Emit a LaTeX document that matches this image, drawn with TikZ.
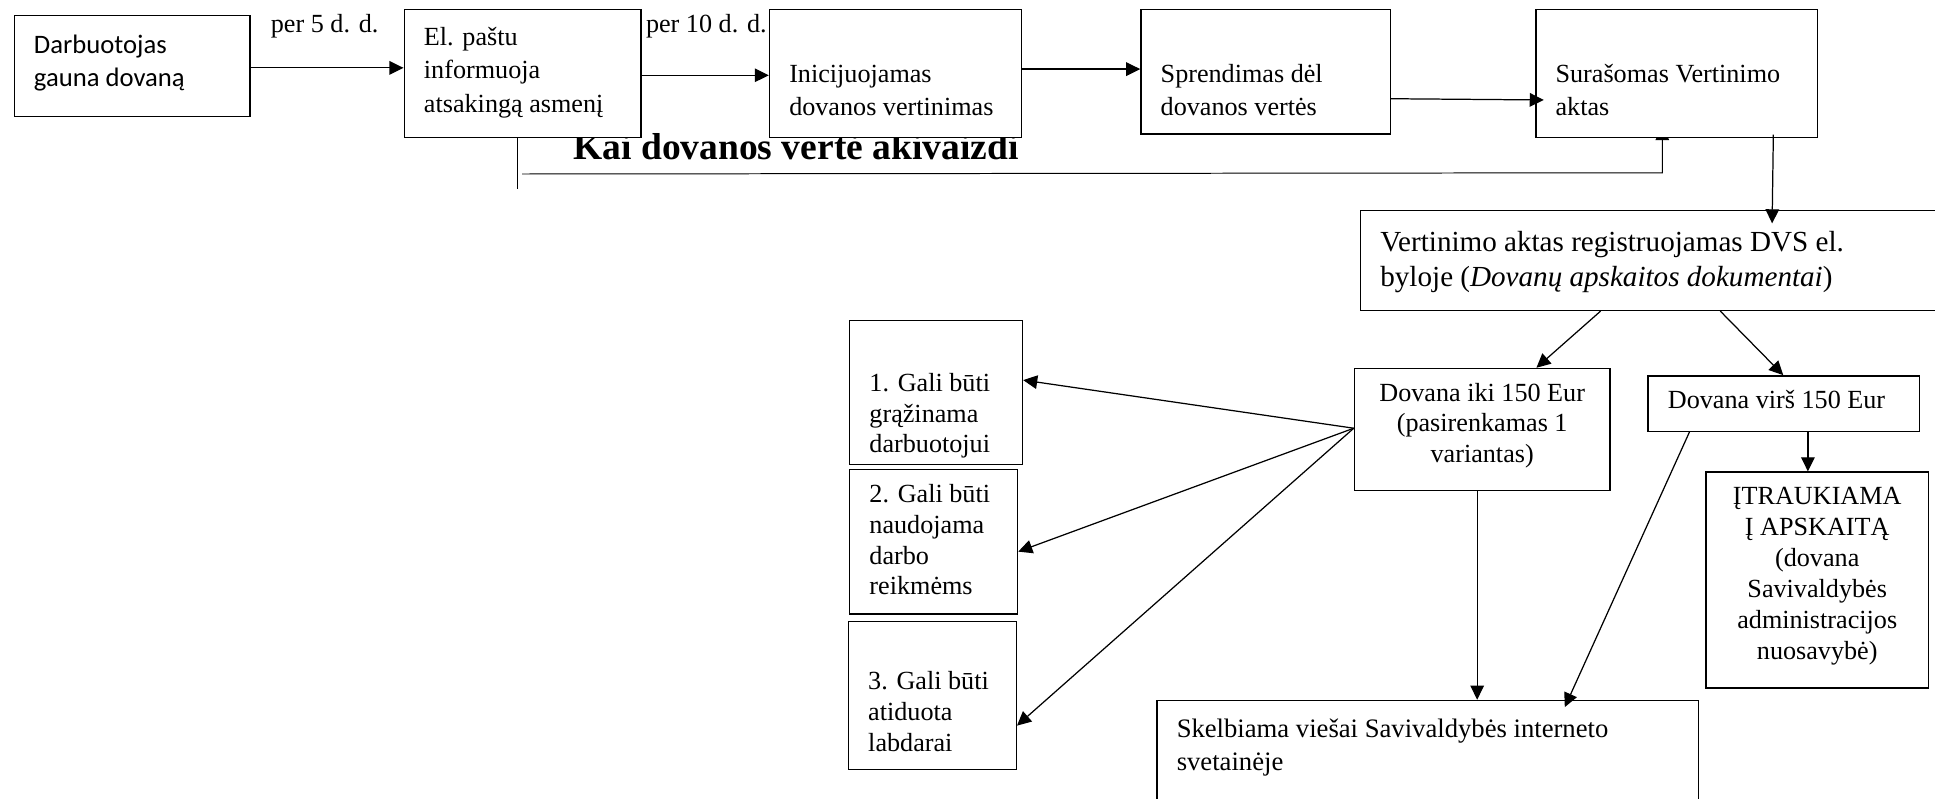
\documentclass[tikz,border=0pt]{standalone}
\usepackage{fontspec}
\setmainfont{Liberation Serif}
\newfontfamily\carlito{Carlito}
\usetikzlibrary{arrows.meta,calc,backgrounds}
\newcommand{\bxfont}{\fontsize{10.6}{12.5}\selectfont}
\newcommand{\boxl}[3]{\parbox[c][#2][t]{#1}{\strut#3}}
\newcommand{\boxc}[3]{\parbox[c][#2][t]{#1}{\centering\strut#3}}
\tikzset{
  >={Triangle[length=5.7pt,width=5.5pt]},
  bx/.style={draw,fill=white,anchor=north west,inner xsep=8pt,inner ysep=4.5pt,line width=0.55pt,font=\bxfont},
  bxt/.style={bx,inner ysep=5pt,font=\fontsize{10.6}{13.6}\selectfont},
  lbl/.style={anchor=base west,inner sep=0pt,font=\bxfont},
  every picture/.style={line width=0.5pt},
}

\begin{document}
\begin{tikzpicture}[x=0.5pt,y=-0.5pt]
\useasboundingbox (0,0) rectangle (1568,647);
\node[bx,inner ysep=6pt] (b1) at (11,12) {\carlito\fontsize{10.8}{13.5}\selectfont\boxl{79.5pt}{29pt}{Darbuotojas\\gauna dovaną}};
\node[bxt] (b2) at (327,7) {\boxl{80pt}{42pt}{El. paštu\\informuoja\\atsakingą asmenį}};
\node[bxt] (b3) at (623,7) {\boxl{86pt}{42pt}{\\[1.5pt]Inicijuojamas\\dovanos vertinimas}};
\node[bxt] (b4) at (924,7) {\boxl{85pt}{40.5pt}{\\[1.5pt]Sprendimas dėl\\dovanos vertės}};
\node[bxt] (b5) at (1244,7) {\boxl{98pt}{42pt}{\\[1.5pt]Surašomas Vertinimo\\aktas}};
\node[bx,inner ysep=7pt,font=\fontsize{11.8}{14}\selectfont] (b6) at (1102,170) {\boxl{224pt}{26.5pt}{Vertinimo aktas registruojamas DVS el.\\byloje (\textit{Dovanų apskaitos dokumentai})}};
\node[bx] (b7) at (1097,298) {\boxc{87.5pt}{40.5pt}{Dovana iki 150 Eur\\(pasirenkamas 1\\variantas)}};
\node[bx] (b8) at (1335,304) {\boxl{94pt}{13.5pt}{Dovana virš 150 Eur}};
\node[bx] (b9) at (1382,382) {\boxc{74pt}{78.5pt}{ĮTRAUKIAMA\\Į APSKAITĄ\\(dovana\\Savivaldybės\\administracijos\\nuosavybė)}};
\node[bx] (b10) at (688,259) {\boxl{54pt}{49.5pt}{\\[3pt]1. Gali būti\\grąžinama\\darbuotojui}};
\node[bx] (b11) at (688,380) {\boxl{52pt}{49.5pt}{2. Gali būti\\naudojama\\darbo\\reikmėms}};
\node[bx] (b12) at (687,503) {\boxl{52pt}{51pt}{\\[2pt]3. Gali būti\\atiduota\\labdarai}};
\node[bx,inner ysep=5.5pt,font=\fontsize{10.8}{13.5}\selectfont] (b13) at (937,567) {\boxl{203.5pt}{49pt}{Skelbiama viešai Savivaldybės interneto\\svetainėje}};
\node[lbl] (l1) at (219,26) {per 5 d. d.};
\node[lbl] (l2) at (523,26) {per 10 d. d.};
\begin{scope}[on background layer]
\node[font=\fontsize{15.2}{18}\selectfont\bfseries,anchor=base,inner sep=0pt] (kt) at (645,129) {Kai dovanos vertė akivaizdi};
\coordinate (f1) at (419,153); \coordinate (f2) at (423,141); \coordinate (f3) at (1347,140);
\draw (b2.south -| 419,0) -- (f1);
\draw[->] (f2) -- (f3) -- ($(b5.south -| f3)+(0,-10)$);
\end{scope}
\draw[->] (b1.east |- 0,55) -- (b2.west |- 0,55);
\draw[->] (b2.east |- 0,61) -- (b3.west |- 0,61);
\draw[->] (b3.east |- 0,56) -- (b4.west |- 0,56);
\draw[->] (b4.east |- 0,80) -- ($(b5.west |- 0,81)+(7,0)$);
\draw[->] ($(b5.south -| 1437,0)+(0,-3)$) -- ($(b6.north -| 1436,0)+(0,11)$);
\draw[->] (b6.south -| 1297,0) -- (b7.north -| 1245,0);
\draw[->] (b6.south -| 1394,0) -- (b8.north -| 1445,0);
\draw[->] (b8.south -| 1465,0) -- (b9.north -| 1465,0);
\draw[->] (b8.south -| 1369,0) -- ($(b13.north -| 1268,0)+(0,6)$);
\draw[->] (b7.south -| 1197,0) -- (b13.north -| 1197,0);
\draw[->] (b7.west |- 0,347) -- (b10.east |- 0,308);
\draw[->] (b7.west |- 0,347) -- (b11.east |- 0,447);
\draw[->] (b7.west |- 0,347) -- (b12.east |- 0,588);
\end{tikzpicture}
\end{document}
